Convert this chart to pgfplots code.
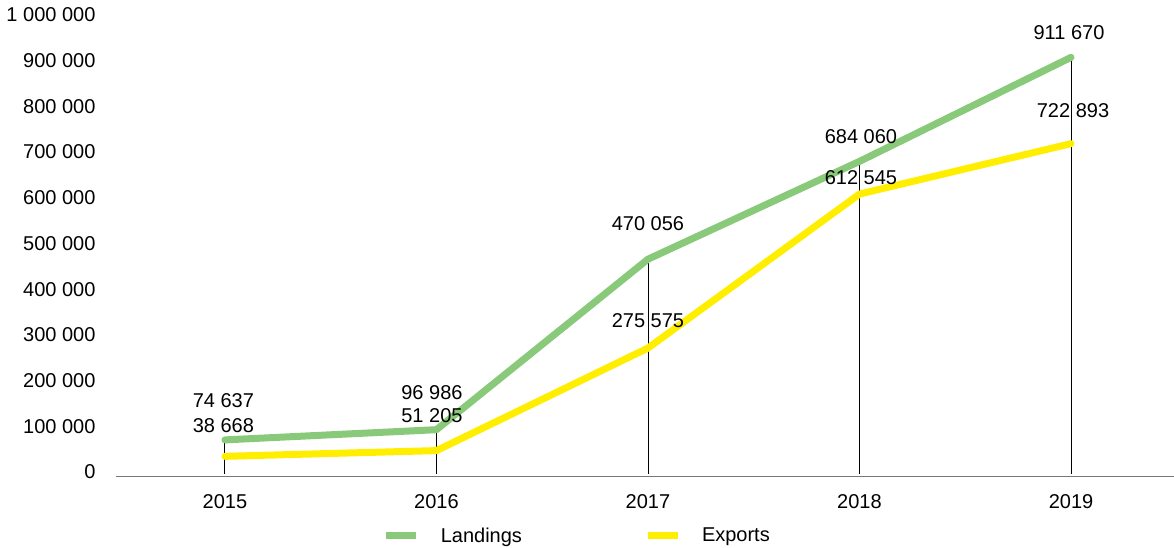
\documentclass[border=0pt]{standalone}
\usepackage{pgfplots}
\pgfplotsset{compat=1.18}
\usepackage{pgfplotstable}
\usepackage{fontspec}
\setmainfont{Liberation Sans}
\definecolor{landgreen}{RGB}{136,201,122}
\definecolor{expyellow}{RGB}{255,238,0}
\definecolor{axisgray}{RGB}{120,120,120}

\pgfplotstableread{
x y dx dy
0 74637 -1.5 39
1 96986 -4.5 37
2 470056 0 36
3 684060 1.5 25
4 911670 -2 25
}\landings
\pgfplotstableread{
x y dx dy
0 38668 -1.5 31
1 51205 -4.5 35
2 275575 0 27
3 612545 1.5 16
4 722893 2 33
}\exports

\begin{document}
\begin{tikzpicture}[font=\fontsize{20}{24}\selectfont]
\path[use as bounding box] (0,0) rectangle (1174pt,547pt);
\begin{axis}[
  scale only axis,
  width=1058pt, height=457pt,
  at={(116pt,73pt)}, anchor=south west,
  xmin=-0.515, xmax=4.487,
  ymin=0, ymax=1000000,
  xtick={0,1,2,3,4},
  xticklabels={2015,2016,2017,2018,2019},
  ytick={0,100000,...,1000000},
  axis lines*=left,
  y axis line style={draw=none},
  x axis line style={draw=axisgray, line width=1.5pt, yshift=-2.5pt},
  major tick length=0pt,
  scaled y ticks=false,
  /pgf/number format/.cd, fixed, precision=0, 1000 sep={\ }, assume math mode=true,
  /pgfplots/.cd,
  tick label style={font=\fontsize{20}{24}\selectfont, text=black},
  yticklabel style={xshift=-17pt, yshift=2pt},
  xticklabel style={yshift=-17pt},
  clip=false,
  legend columns=2,
  legend style={draw=none, fill=none, inner sep=0pt, at={(0.252,-0.135)}, anchor=west,
    font=\fontsize{20}{24}\selectfont,
    /tikz/every even column/.append style={column sep=120pt}},
  legend cell align=left,
  legend image code/.code={\draw[#1, line width=7pt, line cap=butt] (0pt,0pt) -- (30pt,0pt);},
]
\addplot[ycomb, black, line width=0.9pt, forget plot] table[x=x, y=y] {\landings};
\addplot[landgreen, line width=7pt, line cap=round, line join=round,
  nodes near coords, point meta=y,
  visualization depends on={\thisrow{dy} \as \dyv},
  visualization depends on={\thisrow{dx} \as \dxv},
  every node near coord/.append style={anchor=center, text=black, yshift=\dyv pt, xshift=\dxv pt,
    font=\fontsize{20}{24}\selectfont,
    /pgf/number format/.cd, fixed, precision=0, 1000 sep={\ }, assume math mode=true}
  ] table[x=x, y=y] {\landings};
\addlegendentry{\hspace{19pt}Landings}
\addplot[expyellow, line width=7pt, line cap=round, line join=round,
  nodes near coords, point meta=y,
  visualization depends on={\thisrow{dy} \as \dyv},
  visualization depends on={\thisrow{dx} \as \dxv},
  every node near coord/.append style={anchor=center, text=black, yshift=\dyv pt, xshift=\dxv pt,
    font=\fontsize{20}{24}\selectfont,
    /pgf/number format/.cd, fixed, precision=0, 1000 sep={\ }, assume math mode=true}
  ] table[x=x, y=y] {\exports};
\addlegendentry{\hspace{19pt}Exports}
\end{axis}
\end{tikzpicture}
\end{document}
